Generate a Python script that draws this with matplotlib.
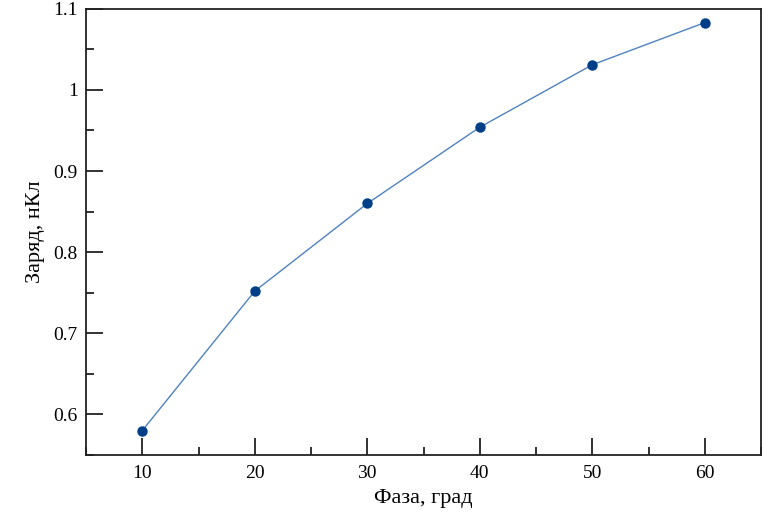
import matplotlib
matplotlib.use("Agg")
import matplotlib.pyplot as plt
from matplotlib.ticker import MultipleLocator

# phase (deg) vs charge (nC)
phase = [10, 20, 30, 40, 50, 60]
charge = [0.580, 0.752, 0.860, 0.954, 1.031, 1.083]

plt.rcParams['font.family'] = ['Liberation Serif', 'DejaVu Serif']

fig = plt.figure(figsize=(7.68, 5.17), dpi=100)
ax = fig.add_axes([0.112, 0.120, 0.879, 0.863])

ax.plot(phase, charge, '-', color='#4f82bf', linewidth=1.0, zorder=2)
ax.plot(phase, charge, 'o', color='#003f87', markersize=6.5, zorder=3)

ax.set_xlim(5, 65)
ax.set_ylim(0.55, 1.1)
ax.xaxis.set_major_locator(MultipleLocator(10))
ax.xaxis.set_minor_locator(MultipleLocator(5))
ax.yaxis.set_minor_locator(MultipleLocator(0.05))
ax.set_yticks([0.6, 0.7, 0.8, 0.9, 1.0, 1.1])
ax.set_yticklabels(['0.6', '0.7', '0.8', '0.9', '1', '1.1'])

ax.tick_params(which='both', direction='in', top=False, right=False,
               labelsize=14, width=1.3, color='#222222')
ax.tick_params(which='major', length=12)
ax.tick_params(which='minor', length=6)
ax.tick_params(axis='x', pad=7)
ax.tick_params(axis='y', pad=6)

for s in ax.spines.values():
    s.set_linewidth(1.3)
    s.set_color('#222222')

ax.set_xlabel('Фаза, град', fontsize=16, labelpad=5)
ax.set_ylabel('Заряд, нКл', fontsize=16, labelpad=6)

fig.savefig('out.png', dpi=100)
